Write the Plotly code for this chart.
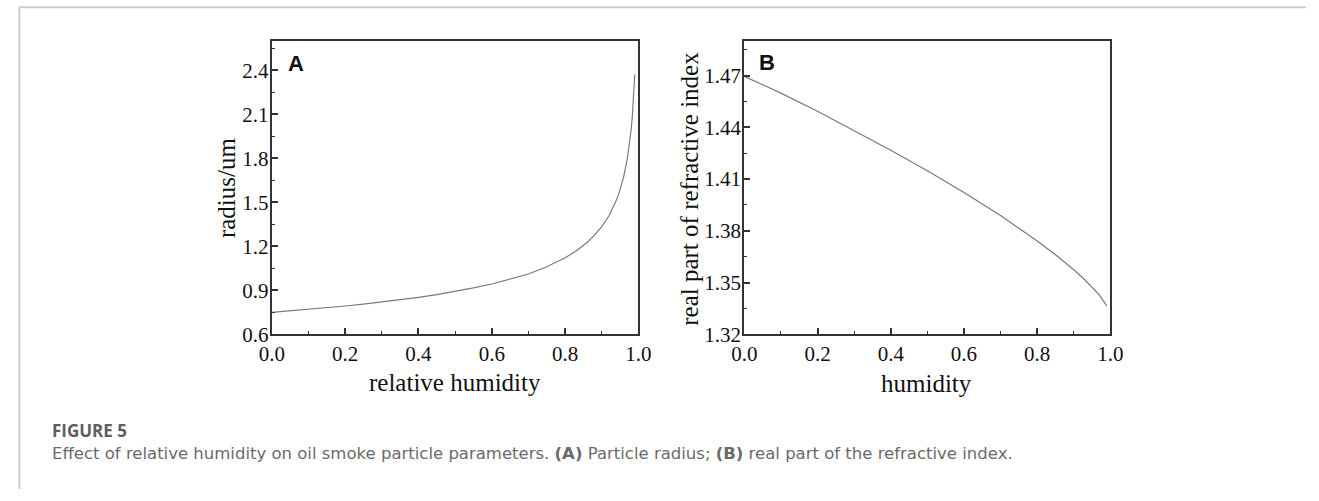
import plotly.graph_objects as go

W, H = 1319, 501

# ---- data ----
rh_a = [0.0, 0.05, 0.1, 0.15, 0.2, 0.25, 0.3, 0.35, 0.4, 0.45, 0.5, 0.55, 0.6, 0.65,
        0.7, 0.75, 0.8, 0.83, 0.86, 0.88, 0.9, 0.92, 0.94, 0.95, 0.96, 0.97, 0.975,
        0.98, 0.983, 0.986, 0.988, 0.99]
radius = [0.750, 0.760, 0.770, 0.781, 0.793, 0.806, 0.820, 0.835, 0.852, 0.871, 0.892,
          0.916, 0.943, 0.975, 1.011, 1.061, 1.122, 1.168, 1.226, 1.276, 1.334, 1.410,
          1.515, 1.586, 1.677, 1.802, 1.886, 1.994, 2.073, 2.180, 2.266, 2.372]

rh_b = [0.0, 0.1, 0.2, 0.3, 0.4, 0.5, 0.6, 0.7, 0.8, 0.85, 0.9, 0.93, 0.95, 0.97, 0.99]
n_real = [1.4695, 1.4598, 1.4493, 1.4382, 1.4267, 1.4148, 1.4022, 1.3888, 1.3741,
          1.3661, 1.3574, 1.3516, 1.3474, 1.3427, 1.3365]

x_ticks = [0.0, 0.2, 0.4, 0.6, 0.8, 1.0]
ya_ticks = [0.6, 0.9, 1.2, 1.5, 1.8, 2.1, 2.4]
yb_ticks = [1.32, 1.35, 1.38, 1.41, 1.44, 1.47]


def px(x):
    return x / W


def py(y):
    return 1 - y / H


fig = go.Figure()
line_style = dict(color="#7a7a7a", width=1.2)
fig.add_trace(go.Scatter(x=rh_a, y=radius, mode="lines", line=line_style,
                         xaxis="x", yaxis="y", showlegend=False))
fig.add_trace(go.Scatter(x=rh_b, y=n_real, mode="lines", line=line_style,
                         xaxis="x2", yaxis="y2", showlegend=False))

tickfont = dict(family="Liberation Serif, Times New Roman, serif", size=21, color="#111")
axcommon = dict(showline=True, linecolor="#333", linewidth=2, mirror=True,
                ticks="inside", ticklen=6, tickwidth=1.5, tickcolor="#333",
                showgrid=False, zeroline=False, tickfont=tickfont)
minor_x = dict(ticks="inside", ticklen=3, tickwidth=1.2, tickcolor="#333", dtick=0.1, tick0=0)

ydom = [py(342.5), py(42)]
fig.update_layout(
    width=W, height=H, margin=dict(l=0, r=0, t=0, b=0),
    paper_bgcolor="white", plot_bgcolor="white",
    xaxis=dict(domain=[px(264), px(638)], range=[0, 1], tickvals=x_ticks,
               ticktext=[f"{v:.1f}" for v in x_ticks], anchor="y", minor=minor_x,
               **axcommon),
    yaxis=dict(domain=ydom, range=[0.6, 2.6], tickvals=ya_ticks,
               ticktext=[f"{v:.1f}" for v in ya_ticks], anchor="x", ticklabelstandoff=-3,
               minor=dict(ticks="inside", ticklen=3, tickwidth=1.2, tickcolor="#333",
                          tickvals=[0.75, 1.05, 1.35, 1.65, 1.95, 2.25, 2.55]),
               **axcommon),
    xaxis2=dict(domain=[px(746), px(1119.5)], range=[0, 1], tickvals=x_ticks,
                ticktext=[f"{v:.1f}" for v in x_ticks], anchor="y2", minor=minor_x,
                **axcommon),
    yaxis2=dict(domain=ydom, range=[1.32, 1.49], tickvals=yb_ticks,
                ticktext=[f"{v:.2f}" for v in yb_ticks], anchor="x2", ticklabelstandoff=-3,
                minor=dict(ticks="inside", ticklen=3, tickwidth=1.2, tickcolor="#333",
                           tickvals=[1.335, 1.365, 1.395, 1.425, 1.455, 1.485]),
                **axcommon),
)

serif_title = dict(family="Liberation Serif, Times New Roman, serif", size=25, color="#111")
letter_font = dict(family="Liberation Sans, Arial, sans-serif", size=22, color="#111")
ann = [
    dict(text="relative humidity", x=px(451), y=py(392), font=serif_title),
    dict(text="radius/um", x=px(218), y=py(192), textangle=-90, font=serif_title),
    dict(text="humidity", x=px(932), y=py(393), font=serif_title),
    dict(text="real part of refractive index", x=px(690), y=py(193), textangle=-90, font=serif_title),
    dict(text="<b>A</b>", x=px(289), y=py(65), font=letter_font),
    dict(text="<b>B</b>", x=px(769), y=py(64), font=letter_font),
    dict(text="<b>FIGURE 5</b>", x=px(38), y=py(441), xanchor="left",
         font=dict(family="Open Sans, sans-serif", size=17, color="#5e5e5e")),
    dict(text="Effect of relative humidity on oil smoke particle parameters. <b>(A)</b> Particle radius; "
              "<b>(B)</b> real part of the refractive index.",
         x=px(38), y=py(464.5), xanchor="left",
         font=dict(family="DejaVu Sans, sans-serif", size=16.5, color="#6a6a6a")),
]
for a in ann:
    a.setdefault("xanchor", "center")
    a.update(xref="paper", yref="paper", yanchor="middle", showarrow=False)
fig.update_layout(annotations=ann)

fig.update_layout(shapes=[
    dict(type="line", xref="paper", yref="paper", x0=px(6), x1=1, y0=py(7.5), y1=py(7.5),
         line=dict(color="#cccccc", width=2)),
    dict(type="line", xref="paper", yref="paper", x0=px(6.5), x1=px(6.5), y0=py(7.5), y1=0,
         line=dict(color="#cccccc", width=2)),
])

fig.write_html("out.html")
